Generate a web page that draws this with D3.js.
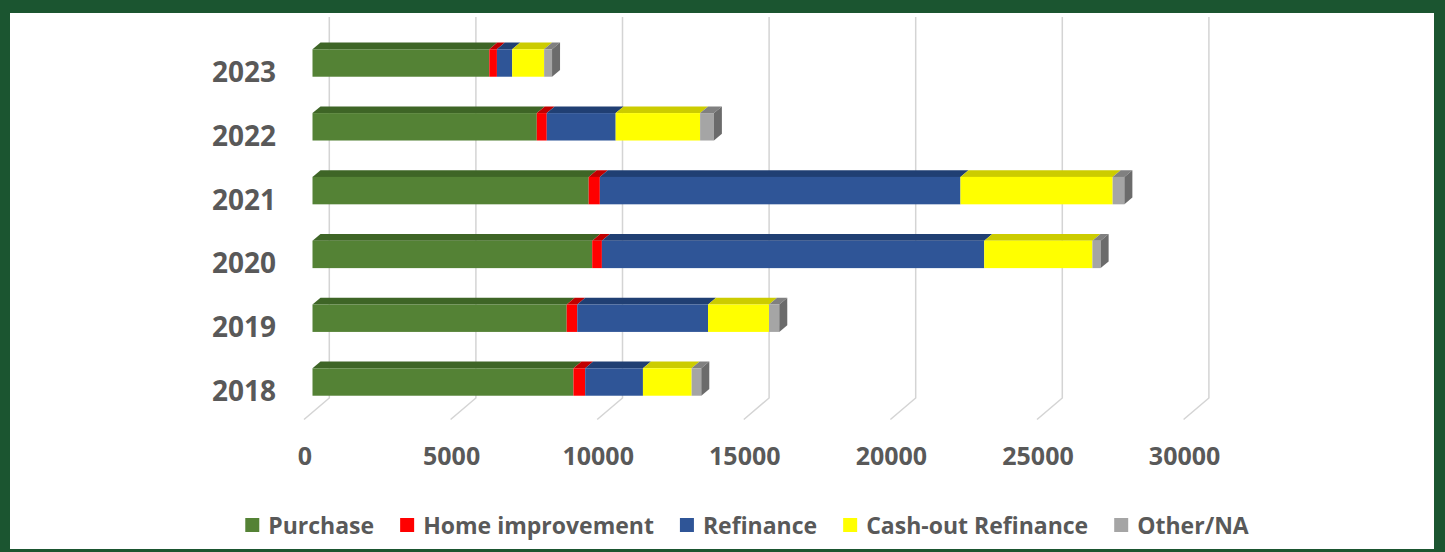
<!DOCTYPE html>
<html>
<head>
<meta charset="utf-8">
<script src="https://cdn.jsdelivr.net/npm/d3@7"></script>
<style>
  html, body { margin: 0; padding: 0; background: #ffffff; }
  svg text { font-family: "Open Sans", "Noto Sans", sans-serif; font-weight: 700; fill: #595959; }
</style>
</head>
<body>
<div id="chart"></div>
<script>
// data (loans per year, by purpose)
var years = ["2023", "2022", "2021", "2020", "2019", "2018"];
var purchase = [6030, 7650, 9420, 9540, 8670, 8900];
var homeImprovement = [260, 340, 380, 330, 360, 400];
var refinance = [520, 2350, 12300, 13040, 4460, 1970];
var cashOut = [1090, 2880, 5190, 3690, 2080, 1660];
var other = [270, 470, 400, 280, 350, 330];
var seriesNames = ["Purchase", "Home improvement", "Refinance", "Cash-out Refinance", "Other/NA"];
var xTicks = [0, 5000, 10000, 15000, 20000, 25000, 30000];

var frontColor = ["#548235", "#ff0000", "#2f5597", "#ffff00", "#a5a5a5"];
var topColor = ["#3e6526", "#c00000", "#203f73", "#cccc00", "#808080"];

var width = 1445, height = 552;
var depthX = 8, depthY = 6.7;      // bar depth
var wallX = 16.8, floorX = -8.5;   // back wall / front floor offsets for gridlines

var svg = d3.select("#chart").append("svg")
	.attr("width", width)
	.attr("height", height);

// green frame
svg.append("rect").attr("width", width).attr("height", height).attr("fill", "#1b5530");
svg.append("rect")
	.attr("x", 10).attr("y", 13)
	.attr("width", 1434 - 10).attr("height", 549 - 13)
	.attr("fill", "#ffffff");

var x = d3.scaleLinear().domain([0, 5000]).range([312.5, 312.5 + 146.6]);
var y = d3.scaleBand().domain(years).range([31.1, 413.9]).paddingInner(0.57).paddingOuter(0.285);

// gridlines: back wall vertical + floor diagonal
var grid = svg.append("g");
grid.selectAll("path")
	.data(xTicks)
	.enter()
	.append("path")
	.attr("d", function (d) {
		var xb = x(d) + wallX;
		return "M" + xb + ",17 L" + xb + ",398 L" + (x(d) + floorX) + ",419.5";
	})
	.attr("fill", "none")
	.attr("stroke", "#d4d4d4")
	.attr("stroke-width", 1.5);

// tick labels
svg.append("g").selectAll("text")
	.data(xTicks)
	.enter()
	.append("text")
	.attr("x", d => x(d) + floorX + 1)
	.attr("y", 455)
	.attr("text-anchor", "middle")
	.attr("dominant-baseline", "central")
	.attr("font-size", 25)
	.text(d => d);

// year labels
svg.append("g").selectAll("text")
	.data(years)
	.enter()
	.append("text")
	.attr("x", 276)
	.attr("y", d => y(d) + y.bandwidth() / 2 + 8)
	.attr("text-anchor", "end")
	.attr("dominant-baseline", "central")
	.attr("font-size", 28)
	.text(d => d);

// stacked bars
var rows = years.map(function (yr, i) {
	return { year: yr, s0: purchase[i], s1: homeImprovement[i], s2: refinance[i], s3: cashOut[i], s4: other[i] };
});
var keys = ["s0", "s1", "s2", "s3", "s4"];
var stacked = d3.stack().keys(keys)(rows);

var bars = svg.append("g");
stacked.forEach(function (layer, k) {
	var g = bars.append("g");
	// top face
	g.selectAll("path.top")
		.data(layer)
		.enter()
		.append("path")
		.attr("class", "top")
		.attr("d", function (d) {
			var x0 = x(d[0]), x1 = x(d[1]), ft = y(d.data.year);
			return "M" + x0 + "," + ft + " L" + (x0 + depthX) + "," + (ft - depthY) +
				" L" + (x1 + depthX) + "," + (ft - depthY) + " L" + x1 + "," + ft + "Z";
		})
		.attr("fill", topColor[k]);
	// front face
	g.selectAll("rect")
		.data(layer)
		.enter()
		.append("rect")
		.attr("x", d => x(d[0]))
		.attr("y", d => y(d.data.year))
		.attr("width", d => x(d[1]) - x(d[0]))
		.attr("height", y.bandwidth())
		.attr("fill", frontColor[k]);
});

// right end face of each bar
var last = stacked[stacked.length - 1];
bars.append("g").selectAll("path")
	.data(last)
	.enter()
	.append("path")
	.attr("d", function (d) {
		var xe = x(d[1]), ft = y(d.data.year), fb = ft + y.bandwidth();
		return "M" + xe + "," + ft + " L" + (xe + depthX) + "," + (ft - depthY) +
			" L" + (xe + depthX) + "," + (fb - depthY) + " L" + xe + "," + fb + "Z";
	})
	.attr("fill", "#6b6b6b");

// legend
var legend = svg.append("g");
var lx = 0;
seriesNames.forEach(function (name, k) {
	var item = legend.append("g").attr("transform", "translate(" + lx + ",0)");
	item.append("rect")
		.attr("x", 0).attr("y", 518)
		.attr("width", 14).attr("height", 14)
		.attr("fill", frontColor[k]);
	var t = item.append("text")
		.attr("x", 23)
		.attr("y", 525)
		.attr("dominant-baseline", "central")
		.attr("font-size", 23)
		.text(name);
	lx += 23 + t.node().getComputedTextLength() + 26;
});
var legendW = lx - 26;
legend.attr("transform", "translate(" + (747 - legendW / 2) + ",0)");
</script>
</body>
</html>
